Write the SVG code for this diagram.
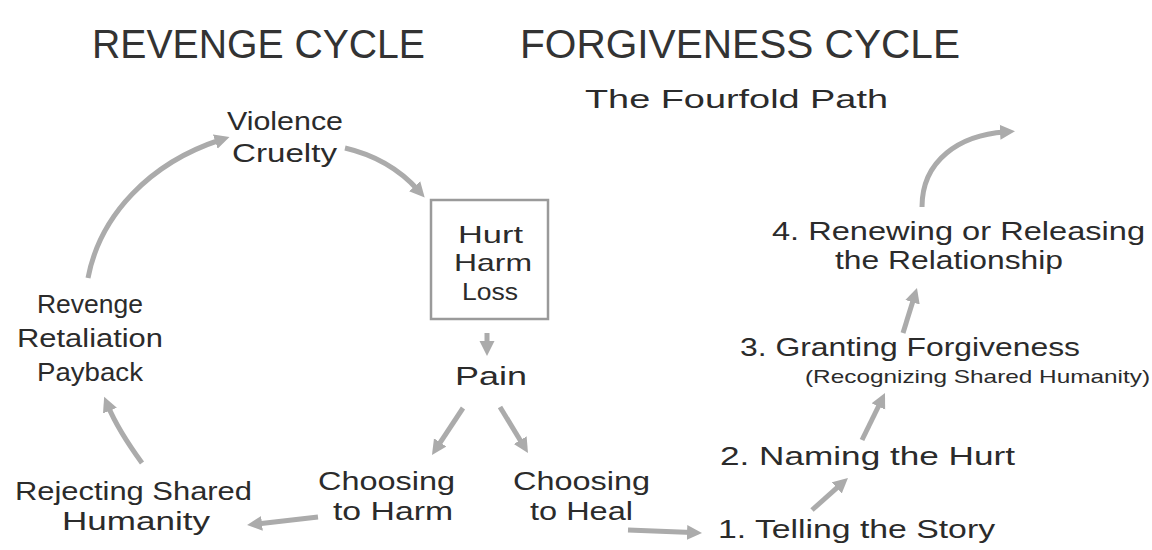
<svg xmlns="http://www.w3.org/2000/svg" width="1152" height="550" viewBox="0 0 1152 550">
  <style>
    .t { font-family: "Liberation Sans", "DejaVu Sans", sans-serif; fill: #2b2b2b; }
    .title { font-size: 40px; fill: #333333; }
    .lbl { font-size: 26px; }
    .sm { font-size: 24px; }
    .sub { font-size: 19px; }
    .arrow { fill: none; stroke: #ababab; stroke-width: 5; stroke-linecap: butt; marker-end: url(#ah); }
    .box { fill: #ffffff; stroke: #9a9a9a; stroke-width: 2.5; }
  </style>
  <defs>
    <marker id="ah" markerUnits="userSpaceOnUse" viewBox="0 0 16 16" markerWidth="16" markerHeight="16" refX="5" refY="8" orient="auto">
      <path d="M0,0.5 L15,8 L0,15.5 z" fill="#ababab"/>
    </marker>
  </defs>
  <rect width="1152" height="550" fill="#ffffff"/>

  <g id="titles">
    <text class="t title" x="92" y="58" textLength="333" lengthAdjust="spacingAndGlyphs">REVENGE CYCLE</text>
    <text class="t title" x="520" y="58" textLength="440" lengthAdjust="spacingAndGlyphs">FORGIVENESS CYCLE</text>
    <text class="t lbl" x="585" y="108" font-size="31" textLength="303" lengthAdjust="spacingAndGlyphs">The Fourfold Path</text>
  </g>

  <g id="connectors">
    <path class="arrow" d="M88,278 C100,215 150,163 220,140"/>
    <path class="arrow" d="M345,148 C375,155 400,170 418,190"/>
    <path class="arrow" d="M487,333 L487,346"/>
    <path class="arrow" d="M463,408 L437.5,446.6"/>
    <path class="arrow" d="M500,407 L522.8,444.5"/>
    <path class="arrow" d="M318,517 L257,523.9"/>
    <path class="arrow" d="M142,463 Q118,430 108,406"/>
    <path class="arrow" d="M628,530 L692,532.6"/>
    <path class="arrow" d="M812,510 L840.5,484.6"/>
    <path class="arrow" d="M862,440 L880.6,402"/>
    <path class="arrow" d="M903,333 L914,297.5"/>
    <path class="arrow" d="M922,207 C922,160 960,135 1005,132"/>
  </g>

  <g id="violence">
    <text class="t lbl" x="227" y="130" textLength="116" lengthAdjust="spacingAndGlyphs">Violence</text>
    <text class="t lbl" x="232" y="162" textLength="105" lengthAdjust="spacingAndGlyphs">Cruelty</text>
  </g>

  <g id="hurt">
    <rect class="box" x="431" y="200" width="117" height="119"/>
    <text class="t sm" x="458" y="243" textLength="65" lengthAdjust="spacingAndGlyphs">Hurt</text>
    <text class="t sm" x="454" y="271" textLength="78" lengthAdjust="spacingAndGlyphs">Harm</text>
    <text class="t sm" x="462" y="300" textLength="56" lengthAdjust="spacingAndGlyphs">Loss</text>
  </g>

  <g id="pain">
    <text class="t lbl" x="455" y="385" textLength="72" lengthAdjust="spacingAndGlyphs">Pain</text>
  </g>

  <g id="choosing-harm">
    <text class="t lbl" x="318" y="490" textLength="137" lengthAdjust="spacingAndGlyphs">Choosing</text>
    <text class="t lbl" x="333" y="520" textLength="120" lengthAdjust="spacingAndGlyphs">to Harm</text>
  </g>

  <g id="choosing-heal">
    <text class="t lbl" x="513" y="490" textLength="137" lengthAdjust="spacingAndGlyphs">Choosing</text>
    <text class="t lbl" x="530" y="520" textLength="103" lengthAdjust="spacingAndGlyphs">to Heal</text>
  </g>

  <g id="rejecting">
    <text class="t lbl" x="15" y="500" textLength="237" lengthAdjust="spacingAndGlyphs">Rejecting Shared</text>
    <text class="t lbl" x="62" y="530" textLength="148" lengthAdjust="spacingAndGlyphs">Humanity</text>
  </g>

  <g id="revenge">
    <text class="t lbl" x="37" y="313" textLength="106" lengthAdjust="spacingAndGlyphs">Revenge</text>
    <text class="t lbl" x="17" y="347" textLength="146" lengthAdjust="spacingAndGlyphs">Retaliation</text>
    <text class="t lbl" x="37" y="381" textLength="106" lengthAdjust="spacingAndGlyphs">Payback</text>
  </g>

  <g id="step1">
    <text class="t lbl" x="718" y="538" textLength="277" lengthAdjust="spacingAndGlyphs">1.  Telling the Story</text>
  </g>

  <g id="step2">
    <text class="t lbl" x="720" y="465" textLength="295" lengthAdjust="spacingAndGlyphs">2.  Naming the Hurt</text>
  </g>

  <g id="step3">
    <text class="t lbl" x="740" y="356" textLength="340" lengthAdjust="spacingAndGlyphs">3.  Granting Forgiveness</text>
    <text class="t sub" x="805" y="383" textLength="345" lengthAdjust="spacingAndGlyphs">(Recognizing Shared  Humanity)</text>
  </g>

  <g id="step4">
    <text class="t lbl" x="772" y="240" textLength="373" lengthAdjust="spacingAndGlyphs">4.  Renewing or Releasing</text>
    <text class="t lbl" x="835" y="269" textLength="228" lengthAdjust="spacingAndGlyphs">the Relationship</text>
  </g>
</svg>
